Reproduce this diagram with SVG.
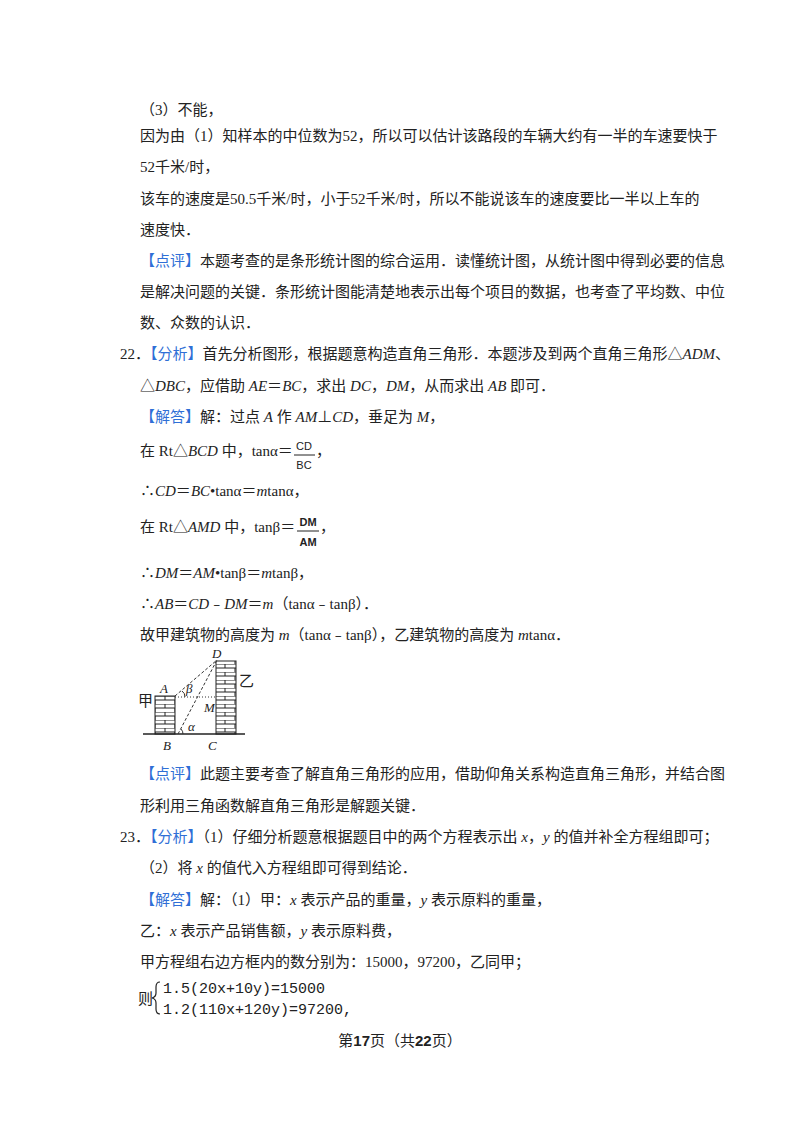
<svg xmlns="http://www.w3.org/2000/svg" width="800" height="1132" viewBox="0 0 800 1132">
<style>
text{font-family:"Liberation Serif","Noto Sans CJK SC",serif;font-size:15px;fill:#222}
.b{fill:#2f6fd6}
.i{font-style:italic}
.f{font-size:11px;font-family:"Liberation Sans Narrow","Liberation Sans",sans-serif}
.l{font-size:13px;font-style:italic}
.m{font-family:"Liberation Mono","Noto Sans CJK SC",monospace;font-size:15px}
</style>
<defs>
<pattern id="brick" width="20" height="8" patternUnits="userSpaceOnUse">
<rect width="20" height="8" fill="#fff"/>
<path d="M0 0H20M0 4H20M5 0V4M15 4V8" stroke="#222" stroke-width="1"/>
</pattern>
</defs>
<rect width="800" height="1132" fill="#fff"/>
<text x="140" y="115">（3）不能，</text>
<text x="140" y="141">因为由（1）知样本的中位数为52，所以可以估计该路段的车辆大约有一半的车速要快于</text>
<text x="140" y="172">52千米/时，</text>
<text x="140" y="204">该车的速度是50.5千米/时，小于52千米/时，所以不能说该车的速度要比一半以上车的</text>
<text x="140" y="235">速度快．</text>
<text x="140" y="266"><tspan class="b">【点评】</tspan>本题考查的是条形统计图的综合运用．读懂统计图，从统计图中得到必要的信息</text>
<text x="140" y="297">是解决问题的关键．条形统计图能清楚地表示出每个项目的数据，也考查了平均数、中位</text>
<text x="140" y="328">数、众数的认识．</text>
<text x="120" y="359">22．<tspan class="b">【分析】</tspan>首先分析图形，根据题意构造直角三角形．本题涉及到两个直角三角形△<tspan class="i">ADM</tspan>、</text>
<text x="140" y="391">△<tspan class="i">DBC</tspan>，应借助 <tspan class="i">AE</tspan>＝<tspan class="i">BC</tspan>，求出 <tspan class="i">DC</tspan>，<tspan class="i">DM</tspan>，从而求出 <tspan class="i">AB</tspan> 即可．</text>
<text x="140" y="422"><tspan class="b">【解答】</tspan>解：过点 <tspan class="i">A</tspan> 作 <tspan class="i">AM</tspan>⊥<tspan class="i">CD</tspan>，垂足为 <tspan class="i">M</tspan>，</text>
<text x="140" y="456">在 Rt△<tspan class="i">BCD</tspan> 中，tanα＝</text>
<text x="304" y="450" class="f" text-anchor="middle">CD</text>
<line x1="294" y1="455" x2="315" y2="455" stroke="#222"/>
<text x="304" y="469" class="f" text-anchor="middle">BC</text>
<text x="316" y="456">，</text>
<text x="140" y="496">∴<tspan class="i">CD</tspan>＝<tspan class="i">BC</tspan>•tanα＝<tspan class="i">m</tspan>tanα，</text>
<text x="140" y="532">在 Rt△<tspan class="i">AMD</tspan> 中，tanβ＝</text>
<text x="308" y="526" class="f" text-anchor="middle" font-weight="bold">DM</text>
<line x1="297" y1="531" x2="319" y2="531" stroke="#222"/>
<text x="308" y="546" class="f" text-anchor="middle" font-weight="bold">AM</text>
<text x="320" y="532">，</text>
<text x="140" y="578">∴<tspan class="i">DM</tspan>＝<tspan class="i">AM</tspan>•tanβ＝<tspan class="i">m</tspan>tanβ，</text>
<text x="140" y="609">∴<tspan class="i">AB</tspan>＝<tspan class="i">CD</tspan>﹣<tspan class="i">DM</tspan>＝<tspan class="i">m</tspan>（tanα﹣tanβ）．</text>
<text x="140" y="640">故甲建筑物的高度为 <tspan class="i">m</tspan>（tanα﹣tanβ），乙建筑物的高度为 <tspan class="i">m</tspan>tanα．</text>
<g id="figure">
<rect x="155" y="696" width="20" height="38" fill="url(#brick)" stroke="#222"/>
<rect x="216" y="661" width="20" height="73" fill="url(#brick)" stroke="#222"/>
<line x1="143" y1="734" x2="245" y2="734" stroke="#222" stroke-width="1.5"/>
<g stroke="#333" stroke-dasharray="3,2" fill="none">
<line x1="175" y1="696" x2="217" y2="660"/>
<line x1="178" y1="734" x2="217" y2="660"/>
</g>
<line x1="175" y1="697" x2="216" y2="697" stroke="#333" stroke-dasharray="1,2"/>
<path d="M182 691 q3 2 3 6" fill="none" stroke="#333"/>
<path d="M181 729 q2 2 2 5" fill="none" stroke="#333"/>
<text x="212" y="658" class="l">D</text>
<text x="160" y="693" class="l">A</text>
<text x="186" y="693" class="l">β</text>
<text x="204" y="712" class="l">M</text>
<text x="188" y="731" class="l">α</text>
<text x="163" y="750" class="l">B</text>
<text x="208" y="750" class="l">C</text>
<text x="138" y="706" font-size="13">甲</text>
<text x="239" y="686" font-size="13">乙</text>
</g>
<text x="140" y="779"><tspan class="b">【点评】</tspan>此题主要考查了解直角三角形的应用，借助仰角关系构造直角三角形，并结合图</text>
<text x="140" y="811">形利用三角函数解直角三角形是解题关键．</text>
<text x="120" y="842">23．<tspan class="b">【分析】</tspan>（1）仔细分析题意根据题目中的两个方程表示出 <tspan class="i">x</tspan>，<tspan class="i">y</tspan> 的值并补全方程组即可；</text>
<text x="140" y="873">（2）将 <tspan class="i">x</tspan> 的值代入方程组即可得到结论．</text>
<text x="140" y="905"><tspan class="b">【解答】</tspan>解：（1）甲：<tspan class="i">x</tspan> 表示产品的重量，<tspan class="i">y</tspan> 表示原料的重量，</text>
<text x="140" y="936">乙：<tspan class="i">x</tspan> 表示产品销售额，<tspan class="i">y</tspan> 表示原料费，</text>
<text x="140" y="967">甲方程组右边方框内的数分别为：15000，97200，乙同甲；</text>
<text x="138" y="1004" font-size="13">则</text>
<path d="M160 982 q-4 0 -4 5 v6 q0 4 -4 5 q4 1 4 5 v6 q0 5 4 5" fill="none" stroke="#222" stroke-width="1.2"/>
<text x="163" y="993" class="m">1.5(20x+10y)=15000</text>
<text x="163" y="1014" class="m">1.2(110x+120y)=97200,</text>
<text x="400" y="1046" text-anchor="middle" font-size="13">第<tspan font-weight="bold" font-family="Liberation Sans" font-size="15">17</tspan>页（共<tspan font-weight="bold" font-family="Liberation Sans" font-size="15">22</tspan>页）</text>
</svg>
